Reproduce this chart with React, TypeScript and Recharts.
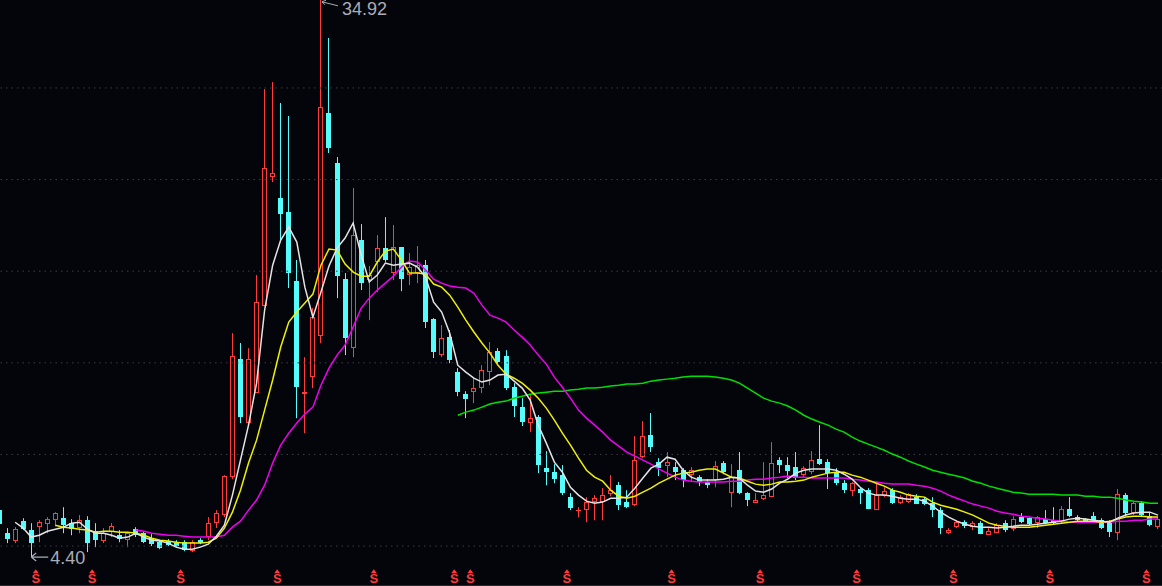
import {
    Bar,
    ComposedChart,
    Line,
    ReferenceLine,
    Scatter,
    XAxis,
    YAxis,
} from 'recharts'

// daily candles, first one (day -1) is half cut off on the left edge
const FIRST_DAY = -1

const opens = [
    6.96, 5.70, 5.27, 6.36, 5.87, 6.03, 6.19, 6.41, 6.52, 6.25,
    5.98, 6.41, 5.81, 5.27, 5.76, 5.59, 5.32, 5.92, 5.70, 5.43,
    5.21, 5.27, 5.21, 5.21, 4.72, 5.32, 5.49, 6.25, 6.69, 8.76,
    15.20, 11.71, 13.35, 18.09, 25.14, 23.99, 23.23, 19.46, 13.29, 14.22,
    16.46, 28.63, 25.90, 19.57, 15.80, 21.70, 19.51, 20.50, 21.26, 19.90,
    21.32, 19.79, 19.90, 20.33, 17.39, 15.42, 16.40, 14.49, 13.29, 13.40,
    13.62, 14.49, 15.64, 15.37, 13.67, 12.58, 11.71, 12.04, 9.25, 9.03,
    8.87, 7.67, 6.90, 6.96, 7.40, 7.40, 7.83, 8.32, 7.40, 7.23,
    9.85, 11.05, 9.58, 9.36, 9.31, 9.14, 8.87, 8.76, 8.49, 8.60,
    9.53, 7.89, 9.14, 7.89, 7.34, 7.56, 7.67, 9.69, 9.42, 9.31,
    8.87, 9.03, 9.74, 9.58, 9.03, 8.43, 8.00, 8.11, 8.05, 6.96,
    7.72, 8.05, 7.34, 7.40, 7.67, 7.56, 7.34, 6.96, 5.70, 6.03,
    6.30, 6.03, 6.25, 5.59, 5.70, 6.25, 5.92, 6.58, 6.52, 6.25,
    6.47, 6.41, 6.36, 7.01, 6.58, 6.47, 6.63, 6.41, 6.25, 5.70,
    7.78, 6.80, 7.34, 6.63, 6.03,
]
const highs = [
    7.23, 5.98, 6.03, 6.52, 6.25, 6.41, 6.58, 6.85, 7.12, 6.47,
    6.69, 6.63, 6.25, 5.98, 6.25, 5.87, 5.76, 6.03, 5.76, 5.65,
    5.32, 5.38, 5.32, 5.32, 5.32, 5.43, 6.58, 6.96, 8.87, 16.62,
    16.08, 15.80, 19.79, 29.94, 30.32, 29.18, 28.47, 20.61, 15.31, 17.99,
    34.92, 32.73, 26.23, 19.90, 24.54, 22.57, 20.28, 21.97, 22.95, 22.52,
    21.32, 20.99, 21.37, 20.61, 17.44, 17.06, 16.79, 14.71, 13.45, 14.22,
    14.87, 16.13, 15.80, 15.69, 13.89, 13.07, 13.24, 12.15, 10.18, 9.47,
    9.42, 7.89, 7.12, 7.67, 7.78, 8.16, 8.87, 8.49, 8.05, 11.00,
    11.82, 12.26, 9.80, 10.13, 9.58, 9.25, 9.31, 8.87, 8.65, 9.64,
    9.64, 9.47, 10.13, 7.94, 7.89, 9.58, 10.67, 9.85, 9.85, 10.13,
    9.36, 10.18, 11.60, 9.74, 9.25, 8.60, 8.49, 8.21, 8.16, 8.43,
    8.21, 8.16, 7.78, 7.89, 7.83, 7.67, 7.67, 7.12, 5.98, 6.41,
    6.41, 6.36, 6.36, 5.98, 6.25, 6.41, 6.63, 6.80, 6.58, 6.63,
    6.96, 7.12, 7.18, 7.67, 6.69, 6.52, 6.85, 6.52, 6.41, 8.11,
    7.89, 7.45, 7.45, 6.85, 6.58,
]
const lows = [
    5.87, 5.16, 5.16, 5.87, 4.40, 5.21, 5.70, 6.08, 5.70, 5.59,
    5.70, 4.67, 4.94, 5.16, 5.49, 5.21, 4.94, 5.49, 5.16, 5.00,
    4.83, 5.00, 4.94, 4.72, 4.67, 5.10, 5.32, 5.98, 6.58, 8.65,
    11.71, 11.60, 13.35, 18.09, 24.86, 21.70, 19.08, 11.98, 11.16, 13.62,
    16.08, 26.45, 18.53, 15.42, 15.31, 18.97, 17.33, 18.86, 20.50, 19.51,
    18.91, 19.24, 19.35, 16.90, 15.26, 15.31, 14.98, 13.18, 11.98, 12.80,
    13.35, 13.78, 14.98, 13.51, 12.04, 11.55, 11.22, 8.98, 8.32, 8.43,
    7.78, 6.96, 6.58, 6.30, 6.41, 6.41, 7.72, 6.96, 7.07, 7.18,
    9.80, 10.13, 8.82, 8.76, 8.60, 8.21, 8.49, 8.27, 8.16, 8.21,
    8.92, 7.12, 7.83, 7.18, 7.34, 7.51, 7.67, 8.98, 8.71, 8.60,
    8.76, 8.92, 9.42, 8.11, 8.32, 7.89, 7.72, 7.29, 7.01, 6.96,
    7.67, 7.29, 7.29, 7.34, 7.29, 7.23, 6.58, 5.65, 5.65, 5.98,
    5.98, 5.87, 5.65, 5.59, 5.70, 5.76, 5.81, 6.25, 6.14, 5.98,
    6.19, 6.19, 6.25, 6.58, 6.30, 6.30, 6.30, 5.92, 5.49, 5.32,
    6.63, 6.69, 6.58, 6.08, 5.92,
]
const closes = [
    6.19, 5.37, 5.92, 5.92, 5.16, 6.30, 6.47, 6.80, 6.14, 5.92,
    6.41, 5.16, 5.32, 5.70, 6.08, 5.38, 5.70, 5.59, 5.21, 5.10,
    4.89, 5.05, 5.00, 4.78, 5.21, 5.16, 6.25, 6.80, 8.82, 15.37,
    12.04, 15.20, 18.31, 25.63, 25.36, 23.12, 19.90, 13.67, 13.40, 17.49,
    28.96, 26.72, 19.73, 16.35, 21.97, 19.35, 19.79, 21.26, 20.61, 21.32,
    19.57, 20.22, 20.33, 17.22, 15.58, 16.35, 15.15, 13.40, 13.02, 13.62,
    14.60, 15.58, 15.04, 13.62, 12.64, 11.76, 11.98, 9.42, 9.03, 8.65,
    7.89, 7.07, 6.96, 7.40, 7.61, 7.78, 8.05, 7.23, 7.12, 9.69,
    11.00, 10.40, 9.25, 9.58, 9.03, 8.60, 9.14, 8.49, 8.32, 9.36,
    9.03, 8.76, 7.89, 7.51, 7.51, 7.78, 9.53, 9.42, 9.09, 8.71,
    9.25, 9.69, 9.47, 8.98, 8.43, 8.05, 8.43, 7.89, 7.01, 7.78,
    8.00, 7.34, 7.67, 7.83, 7.29, 7.29, 6.96, 5.98, 5.87, 6.30,
    6.08, 6.25, 5.65, 5.81, 6.14, 5.87, 6.47, 6.30, 6.19, 6.58,
    6.25, 6.25, 7.01, 6.63, 6.41, 6.36, 6.41, 5.98, 5.76, 7.83,
    6.80, 7.34, 6.69, 6.14, 6.47,
]

// moving averages as drawn on the chart, each starts at the given row
const MA5_FROM = 2
const ma5 = [
    6.30, 5.98, 5.49, 5.59, 5.81, 5.92, 6.03, 6.25, 6.30, 5.92,
    5.70, 5.70, 5.59, 5.43, 5.49, 5.70, 5.49, 5.32, 5.27, 5.16,
    4.94, 4.83, 4.83, 4.94, 5.10, 5.54, 6.14, 7.78, 9.69, 11.60,
    13.89, 17.88, 20.33, 21.70, 22.41, 21.59, 19.13, 17.49, 18.86, 20.28,
    21.26, 21.81, 22.63, 20.88, 19.41, 19.79, 20.44, 20.33, 20.39, 20.44,
    20.22, 19.68, 18.31, 17.77, 16.62, 14.87, 14.49, 14.16, 13.95, 14.06,
    14.33, 14.38, 14.00, 13.62, 12.96, 11.60, 10.62, 9.58, 9.03, 8.21,
    7.78, 7.45, 7.34, 7.40, 7.61, 7.61, 7.67, 8.16, 8.71, 9.25,
    9.47, 9.85, 9.74, 9.14, 8.76, 8.60, 8.60, 8.60, 8.65, 8.76,
    8.71, 8.32, 8.00, 7.94, 8.11, 8.43, 8.65, 8.98, 9.14, 9.20,
    9.20, 9.20, 9.14, 8.92, 8.65, 8.21, 7.89, 7.78, 7.78, 7.72,
    7.61, 7.56, 7.56, 7.45, 7.18, 6.85, 6.58, 6.36, 6.19, 6.08,
    6.03, 6.03, 5.98, 6.03, 6.08, 6.14, 6.14, 6.19, 6.25, 6.30,
    6.36, 6.47, 6.52, 6.47, 6.41, 6.36, 6.30, 6.52, 6.69, 6.80,
    6.85, 6.85, 6.69,
]
const MA10_FROM = 7
const ma10 = [
    6.14, 6.03, 5.98, 5.92, 5.87, 5.76, 5.81, 5.81, 5.76, 5.76,
    5.70, 5.59, 5.43, 5.32, 5.27, 5.21, 5.16, 5.16, 5.16, 5.21,
    5.43, 5.98, 6.85, 8.05, 9.53, 10.78, 12.42, 14.06, 15.86, 17.22,
    17.77, 18.26, 18.75, 20.33, 21.21, 21.15, 20.39, 19.95, 19.73, 19.73,
    20.50, 21.10, 21.21, 20.61, 19.90, 19.90, 19.84, 19.30, 19.13, 18.69,
    18.04, 17.33, 16.68, 16.08, 15.53, 14.87, 14.38, 14.16, 13.89, 13.51,
    13.07, 12.53, 11.87, 11.16, 10.51, 9.80, 9.14, 8.76, 8.54, 8.05,
    7.72, 7.61, 7.72, 7.94, 8.16, 8.43, 8.65, 8.87, 8.98, 9.03,
    9.14, 9.20, 9.20, 8.98, 8.76, 8.71, 8.54, 8.38, 8.32, 8.38,
    8.49, 8.49, 8.54, 8.60, 8.76, 8.87, 8.98, 9.03, 9.03, 8.87,
    8.76, 8.60, 8.43, 8.27, 8.05, 7.94, 7.78, 7.72, 7.67, 7.40,
    7.23, 7.12, 7.01, 6.85, 6.69, 6.47, 6.25, 6.14, 6.08, 6.03,
    6.03, 6.03, 6.08, 6.14, 6.19, 6.25, 6.30, 6.36, 6.36, 6.36,
    6.30, 6.36, 6.47, 6.58, 6.63, 6.63, 6.58, 6.58,
]
const MA20_FROM = 17
const ma20 = [
    5.87, 5.81, 5.70, 5.65, 5.59, 5.59, 5.54, 5.49, 5.49, 5.49,
    5.49, 5.59, 6.03, 6.36, 6.96, 7.51, 8.32, 9.53, 10.51, 11.16,
    11.71, 12.20, 12.58, 13.78, 14.71, 15.42, 15.97, 16.95, 17.99, 18.53,
    18.97, 19.35, 19.73, 20.22, 20.55, 20.50, 20.06, 19.57, 19.35, 19.19,
    19.13, 19.08, 18.80, 18.15, 17.60, 17.44, 17.22, 16.79, 16.40, 15.97,
    15.42, 14.93, 14.22, 13.67, 13.07, 12.42, 11.98, 11.60, 11.22, 10.78,
    10.45, 10.13, 9.91, 9.69, 9.47, 9.20, 8.98, 8.76, 8.60, 8.54,
    8.49, 8.49, 8.49, 8.49, 8.54, 8.54, 8.60, 8.65, 8.65, 8.71,
    8.76, 8.82, 8.76, 8.76, 8.71, 8.71, 8.71, 8.71, 8.71, 8.65,
    8.60, 8.54, 8.49, 8.43, 8.38, 8.38, 8.38, 8.32, 8.27, 8.16,
    8.00, 7.78, 7.61, 7.45, 7.29, 7.18, 7.07, 6.90, 6.80, 6.74,
    6.63, 6.58, 6.52, 6.47, 6.41, 6.36, 6.30, 6.30, 6.30, 6.30,
    6.30, 6.30, 6.36, 6.36, 6.41, 6.41, 6.47, 6.47,
]
const MA60_FROM = 57
const ma60 = [
    12.14, 12.31, 12.42, 12.58, 12.75, 12.85, 12.91, 13.07, 13.18, 13.29,
    13.35, 13.40, 13.45, 13.45, 13.51, 13.56, 13.62, 13.62, 13.67, 13.73,
    13.78, 13.84, 13.84, 13.89, 14.00, 14.06, 14.11, 14.16, 14.22, 14.27,
    14.27, 14.27, 14.22, 14.16, 14.06, 13.89, 13.62, 13.35, 13.07, 12.91,
    12.80, 12.64, 12.42, 12.14, 11.93, 11.76, 11.60, 11.38, 11.22, 10.94,
    10.73, 10.56, 10.40, 10.23, 10.02, 9.85, 9.64, 9.47, 9.31, 9.14,
    9.03, 8.92, 8.82, 8.71, 8.54, 8.43, 8.27, 8.16, 8.05, 7.94,
    7.89, 7.83, 7.83, 7.83, 7.83, 7.78, 7.78, 7.78, 7.72, 7.72,
    7.67, 7.67, 7.61, 7.51, 7.45, 7.40, 7.34, 7.34,
]

// days carrying the red "S" event mark under the chart
const markDays = [4, 11, 22, 34, 46, 56, 58, 70, 83, 94, 106, 118, 130, 142]
const gridPrices = [5, 10, 15, 20, 25, 30]
const highMark = { day: 39, price: 34.92 }
const lowMark = { day: 3, price: 4.4 }
const MARK_LEVEL = 3.3

const RED = '#ff3b3b'
const CYAN = '#54fcfc'
const BG = '#04050b'
const LABEL = '#a9adb8'

const pick = (arr: number[], from: number, j: number) =>
    j >= from && j - from < arr.length ? arr[j - from] : null

const rows = opens.map((o, j) => {
    const day = j + FIRST_DAY
    return {
        day,
        o,
        h: highs[j],
        l: lows[j],
        c: closes[j],
        range: [lows[j], highs[j]],
        ma5: pick(ma5, MA5_FROM, j),
        ma10: pick(ma10, MA10_FROM, j),
        ma20: pick(ma20, MA20_FROM, j),
        ma60: pick(ma60, MA60_FROM, j),
        sMark: markDays.includes(day) ? MARK_LEVEL : null,
        hiMark: day === highMark.day ? highMark.price : null,
        loMark: day === lowMark.day ? lowMark.price : null,
    }
})

const Candle = (props: any) => {
    const { x, y, width, height, payload } = props
    if (!payload || !isFinite(y) || !isFinite(height)) return <g />
    const { o, h, l, c } = payload
    const span = h - l || 1
    const toY = (v: number) => y + ((h - v) / span) * height
    const mid = Math.floor(x + width / 2)
    const top = Math.round(toY(Math.max(o, c)))
    const bot = Math.round(toY(Math.min(o, c)))
    const hiY = toY(h)
    const loY = toY(l)
    if (c >= o) {
        const bh = Math.max(bot - top, 1)
        return (
            <g>
                <rect x={mid} y={hiY} width={1} height={Math.max(top - hiY, 0)} fill={RED} />
                <rect x={mid} y={bot} width={1} height={Math.max(loY - bot, 0)} fill={RED} />
                {bh > 2 ? (
                    <rect x={mid - 1.5} y={top + 0.5} width={4} height={bh - 1} fill="none" stroke={RED} strokeWidth={1} />
                ) : (
                    <rect x={mid - 2} y={top} width={5} height={bh} fill={RED} />
                )}
            </g>
        )
    }
    return (
        <g>
            <rect x={mid} y={hiY} width={1} height={Math.max(loY - hiY, 0)} fill={CYAN} />
            <rect x={mid - 2} y={top} width={5} height={Math.max(bot - top, 1)} fill={CYAN} />
        </g>
    )
}

const EventMark = (props: any) => {
    const { cx, cy, payload } = props
    if (!payload || payload.sMark == null) return <g />
    const mx = cx - 3.5
    return (
        <g>
            <polygon points={`${mx - 3},${cy - 4} ${mx},${cy - 8} ${mx + 3},${cy - 4}`} fill={RED} />
            <text x={mx} y={cy + 6} textAnchor="middle" fontSize={13} fontWeight="bold"
                fontFamily="'Liberation Sans', Arial, sans-serif" fill={RED}>S</text>
        </g>
    )
}

const HighLabel = (props: any) => {
    const { cx, cy, payload } = props
    if (!payload || payload.hiMark == null) return <g />
    const ax = cx + 1
    const ay = cy + 4
    return (
        <g>
            <path d={`M${ax + 16},${ay + 4} L${ax},${ay} M${ax},${ay} l4,-1.5 M${ax},${ay} l3,3`}
                stroke={LABEL} strokeWidth={1} fill="none" />
            <text x={cx + 21} y={cy + 17.5} fontSize={18}
                fontFamily="'Liberation Sans', Arial, sans-serif" fill={LABEL}>{payload.hiMark.toFixed(2)}</text>
        </g>
    )
}

const LowLabel = (props: any) => {
    const { cx, cy, payload } = props
    if (!payload || payload.loMark == null) return <g />
    const ax = cx
    return (
        <g>
            <path d={`M${ax},${cy} L${ax + 17},${cy} M${ax},${cy} l5,-4 M${ax},${cy} l5,4`}
                stroke={LABEL} strokeWidth={1.2} fill="none" />
            <text x={ax + 19} y={cy + 7} fontSize={18}
                fontFamily="'Liberation Sans', Arial, sans-serif" fill={LABEL}>{payload.loMark.toFixed(2)}</text>
        </g>
    )
}

export default function App() {
    return (
        <div style={{ position: 'fixed', left: 0, top: 0, width: 1162, height: 586, overflow: 'hidden', background: BG }}>
            <div style={{ position: 'absolute', left: -5, top: 0 }}>
                <ComposedChart width={1167} height={586} data={rows} margin={{ top: 0, right: 0, bottom: 0, left: 0 }}>
                    <XAxis dataKey="day" hide />
                    <YAxis hide domain={[2.82, 34.8]} allowDataOverflow />
                    {gridPrices.map(p => (
                        <ReferenceLine key={p} y={p} stroke="#3c3d44" strokeDasharray="1.5 4" />
                    ))}
                    <ReferenceLine y={2.84} stroke="#2e2f36" />
                    <Bar dataKey="range" barSize={6} shape={<Candle />} isAnimationActive={false} />
                    <Line dataKey="ma60" stroke="#00e000" strokeWidth={1.5} dot={false} activeDot={false} isAnimationActive={false} />
                    <Line dataKey="ma20" stroke="#f000f0" strokeWidth={1.5} dot={false} activeDot={false} isAnimationActive={false} />
                    <Line dataKey="ma10" stroke="#f0f000" strokeWidth={1.5} dot={false} activeDot={false} isAnimationActive={false} />
                    <Line dataKey="ma5" stroke="#e4e4e4" strokeWidth={1.5} dot={false} activeDot={false} isAnimationActive={false} />
                    <Scatter dataKey="sMark" shape={<EventMark />} isAnimationActive={false} />
                    <Scatter dataKey="hiMark" shape={<HighLabel />} isAnimationActive={false} />
                    <Scatter dataKey="loMark" shape={<LowLabel />} isAnimationActive={false} />
                </ComposedChart>
            </div>
        </div>
    )
}
